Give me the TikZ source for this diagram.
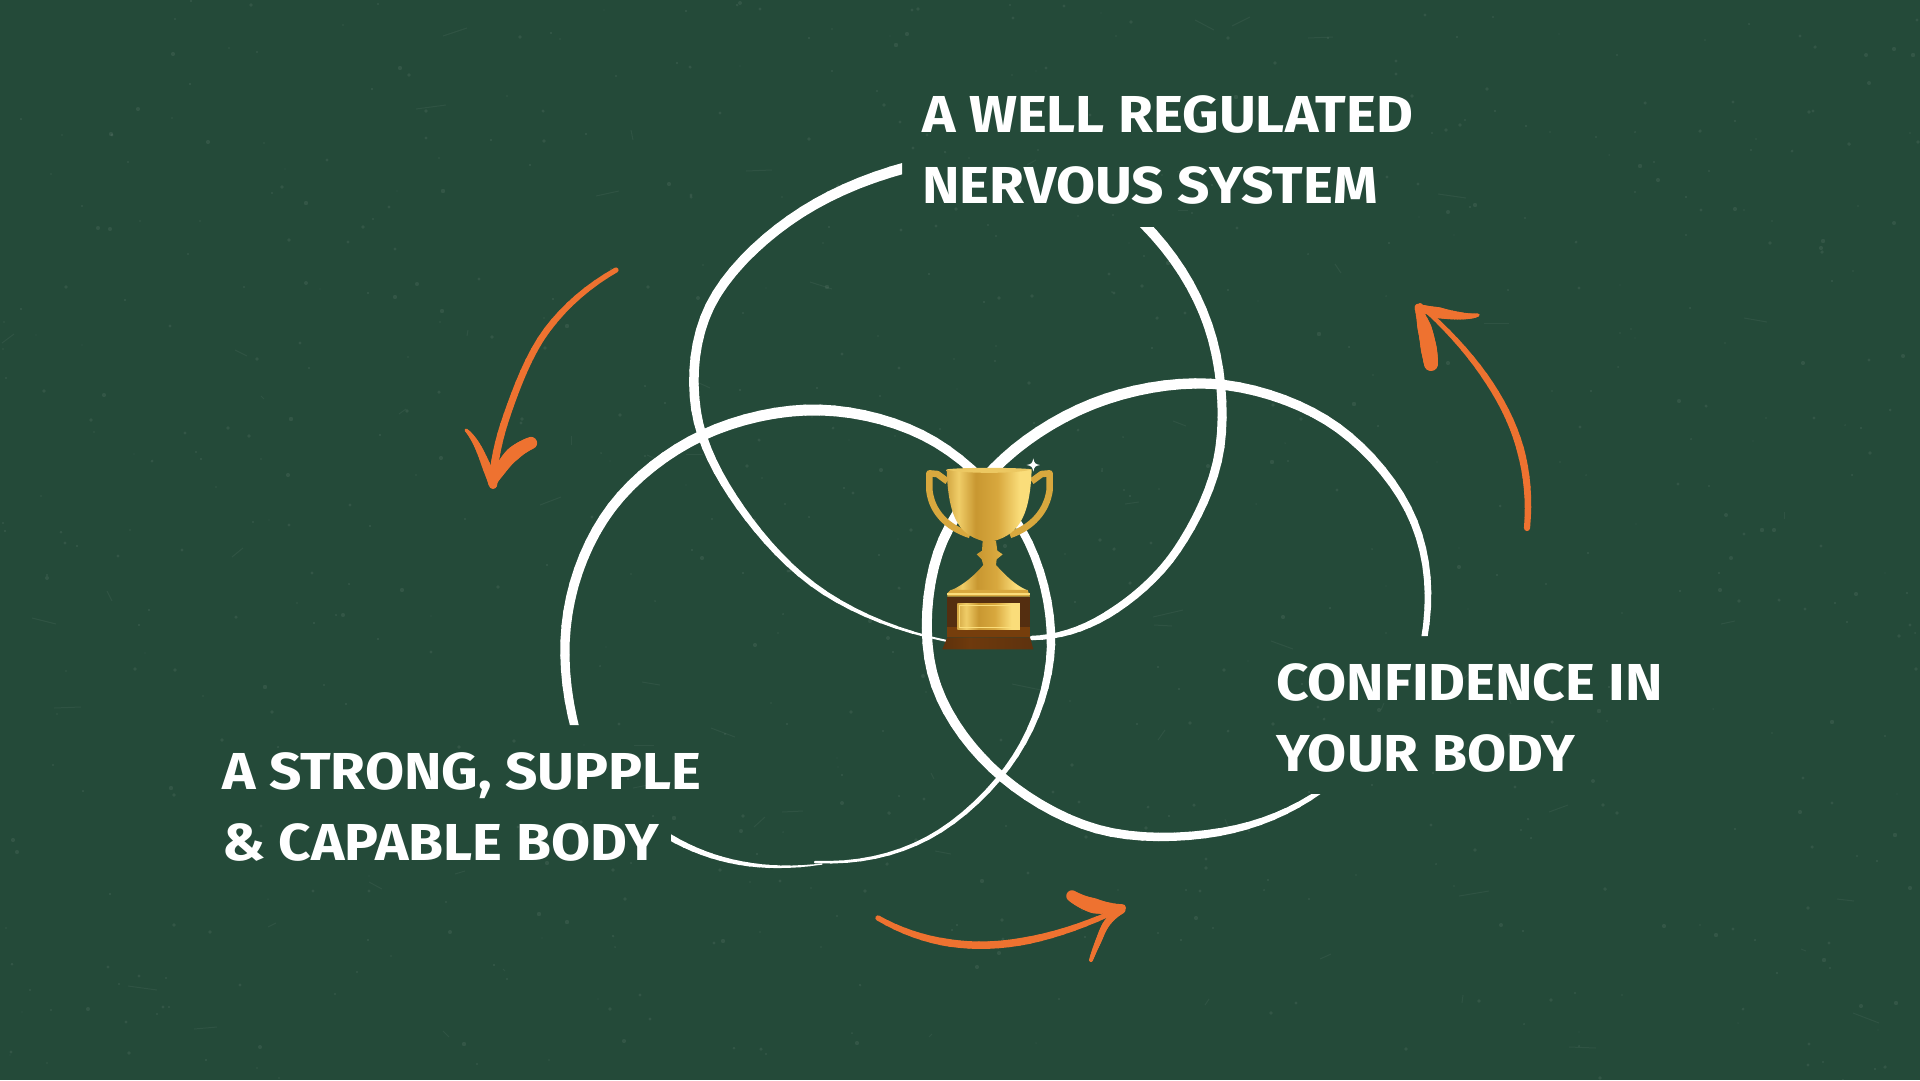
\documentclass[tikz,border=0pt]{standalone}
\usepackage{fontspec}
\setmainfont{Fira Sans}[FakeStretch=1.09]
\definecolor{BoardGreen}{RGB}{36,74,57}
\definecolor{ArrowOrange}{RGB}{238,114,48}
\definecolor{GoldDark}{RGB}{190,140,40}
\definecolor{GoldMid}{RGB}{216,168,62}
\definecolor{GoldLight}{RGB}{250,221,122}
\definecolor{BaseBrown}{RGB}{84,46,16}
\definecolor{BaseDark}{RGB}{94,50,14}
\pgfdeclarehorizontalshading{goldshade}{100bp}{color(0bp)=(GoldDark);color(20bp)=(GoldDark);color(32bp)=(GoldLight!70!GoldMid);color(42bp)=(GoldDark!60!GoldMid);color(55bp)=(GoldMid);color(68bp)=(GoldLight);color(76bp)=(GoldLight);color(88bp)=(GoldMid);color(100bp)=(GoldMid)}
\pgfdeclarehorizontalshading{brownshade}{100bp}{color(0bp)=(BaseDark!70!black);color(40bp)=(BaseDark!90!orange);color(75bp)=(BaseDark);color(100bp)=(BaseDark!70!black)}
\tikzset{
  sidelabel/.style={anchor=north west, inner sep=0pt, align=left, text=white,
    font=\fontsize{52}{71}\selectfont\bfseries},
  goldpart/.style={shading=goldshade},
  handlepart/.style={draw=GoldMid, line width=6.5pt, line join=round}
}
% a hand drawn stroke: x/y/width points, last one written twice
\newcount\npass
\newcommand{\brushstroke}[2]{
  \global\npass=0
  \foreach \xN/\yN/\wN in {#2}{
    \ifnum\npass>1
      \ifnum\npass=2
        \pgfmathsetmacro{\xAA}{3*\xB-3*\xC+\xN}\global\let\xA\xAA
        \pgfmathsetmacro{\yAA}{3*\yB-3*\yC+\yN}\global\let\yA\yAA
      \fi
      \let\xD\xN \let\yD\yN
      \ifdim\xN pt=\xC pt \ifdim\yN pt=\yC pt
        \pgfmathsetmacro{\xD}{3*\xC-3*\xB+\xA}
        \pgfmathsetmacro{\yD}{3*\yC-3*\yB+\yA}
      \fi\fi
      \global\let\lastx\xB \global\let\lasty\yB
      \foreach \tt in {0.125,0.25,0.375,0.5,0.625,0.75,0.875,1}{
        \pgfmathsetmacro{\px}{0.5*(2*\xB+(\xC-\xA)*\tt+(2*\xA-5*\xB+4*\xC-\xD)*\tt*\tt+(3*\xB-\xA-3*\xC+\xD)*\tt*\tt*\tt)}
        \pgfmathsetmacro{\py}{0.5*(2*\yB+(\yC-\yA)*\tt+(2*\yA-5*\yB+4*\yC-\yD)*\tt*\tt+(3*\yB-\yA-3*\yC+\yD)*\tt*\tt*\tt)}
        \pgfmathsetmacro{\pw}{\wB+(\wC-\wB)*\tt}
        \draw[#1,line width=\pw pt,line cap=round] (\lastx,\lasty) -- (\px,\py);
        \global\let\lastx\px \global\let\lasty\py
      }
    \fi
    \ifnum\npass>0
      \global\let\xA\xB \global\let\yA\yB
      \global\let\xB\xC \global\let\yB\yC \global\let\wB\wC
    \fi
    \global\let\xC\xN \global\let\yC\yN \global\let\wC\wN
    \global\advance\npass by 1
  }
}
\begin{document}
\begin{tikzpicture}[x=1pt,y=-1pt]
  \fill[BoardGreen] (0,0) rectangle (1920,1080);
  \useasboundingbox (0,0) rectangle (1920,1080);
  % chalk specks and scratches
  \pgfmathsetseed{42}
  \foreach \i in {1,...,700}{
    \pgfmathsetmacro{\sx}{random(0,1920)}
    \pgfmathsetmacro{\sy}{random(0,1080)}
    \pgfmathsetmacro{\sr}{0.6+1.6*rnd}
    \fill[white,opacity=0.07] (\sx,\sy) circle[radius=\sr];
  }
  \foreach \i in {1,...,70}{
    \pgfmathsetmacro{\sx}{random(0,1900)}
    \pgfmathsetmacro{\sy}{random(0,1060)}
    \pgfmathsetmacro{\dx}{random(-30,30)}
    \pgfmathsetmacro{\dy}{random(-10,10)}
    \draw[white,opacity=0.05,line width=1pt] (\sx,\sy) -- ++(\dx,\dy);
  }
  % top ring
  \begin{scope}
    \clip (0,0) -- (902,0) -- (902,227) -- (1400,227) -- (1400,1080) -- (0,1080) -- cycle;
    \brushstroke{white}{908/167/11, 790/220/10, 710/306/9.5, 696/410/9.5, 740/507/7.5, 825/593/5, 947/641/2, 947/641/2}
    \brushstroke{white}{1142/222/10, 1208/325/9, 1220/447/9, 1177/550/8, 1107/615/7.5, 1032/638/4.5, 1032/638/4.5}
  \end{scope}
  % left ring
  \begin{scope}
    \clip (671,1080) -- (671,725) -- (0,725) -- (0,0) -- (1920,0) -- (1920,1080) -- cycle;
    \brushstroke{white}{576/732/8.5, 568/612/9.5, 612/507/10, 703/435/10.5, 820/410/11, 935/442/9.5, 1022/530/8, 1051/645/8.5, 1016/755/5.5, 928/838/4, 815/862/2.5, 815/862/2.5}
    \brushstroke{white}{822/864/1, 740/863/4, 668/836/6, 668/836/6}
  \end{scope}
  % right ring
  \begin{scope}
    \clip (0,0) -- (1920,0) -- (1920,636) -- (1270,636) -- (1270,794) -- (1920,794) -- (1920,1080) -- (0,1080) -- cycle;
    \brushstroke{white}{1424/640/6, 1414/522/7.5, 1338/428/9, 1225/385/10, 1106/399/11, 1004/459/11, 938/553/10, 932/672/10, 992/768/9.5, 1097/829/9, 1220/832/8, 1322/790/5, 1322/790/5}
  \end{scope}
  % labels
  \node[sidelabel] (nervousLabel) at (922,95) {A WELL REGULATED\\NERVOUS SYSTEM};
  \node[sidelabel] (bodyLabel) at (222,752) {A STRONG, SUPPLE\\\& CAPABLE BODY};
  \node[sidelabel] (confidenceLabel) at (1276,663) {CONFIDENCE IN\\YOUR BODY};
  % orange arrows
  \brushstroke{ArrowOrange}{616/270/5, 547/330/6.5, 507/415/7, 493/485/8, 493/485/8}
  \brushstroke{ArrowOrange}{466/430/3, 477/445/6, 488/470/9, 493/484/9, 493/484/9}
  \brushstroke{ArrowOrange}{531/443/12, 512/455/14, 498/473/11, 493/484/7, 493/484/7}
  \brushstroke{ArrowOrange}{878/918/5, 950/943/7.5, 1030/940/7.5, 1122/908/5, 1122/908/5}
  \brushstroke{ArrowOrange}{1072/896/11, 1095/906/15, 1122/908/8, 1122/908/8}
  \brushstroke{ArrowOrange}{1122/910/7, 1107/923/7, 1098/942/6, 1091/960/4, 1091/960/4}
  \brushstroke{ArrowOrange}{1527/528/6, 1520/448/7.5, 1484/375/6.5, 1420/305/4, 1420/305/4}
  \brushstroke{ArrowOrange}{1418/307/6, 1440/313/11, 1463/316/7, 1478/315/3.5, 1478/315/3.5}
  \brushstroke{ArrowOrange}{1418/308/6, 1425/330/14, 1429/350/16, 1431/364/14, 1431/364/14}
  % trophy
  \begin{scope}[shift={(880,440)},x=0.3333pt,y=-0.3333pt]
    \draw[handlepart] (202,124) -- (172,102) -- (148,100) -- (148,150) .. controls (155,215) and (200,262) .. (270,285);
    \draw[handlepart] (455,124) -- (485,102) -- (509,100) -- (509,150) .. controls (500,215) and (455,262) .. (390,285);
    \shade[goldpart] (200,88) .. controls (205,240) and (240,290) .. (325,307) .. controls (410,290) and (450,240) .. (455,88) -- cycle;
    \fill[GoldLight!60!GoldMid] (200,88) .. controls (240,82) and (415,82) .. (455,88) .. controls (415,102) and (240,102) .. (200,88) -- cycle;
    \shade[goldpart] (308,303) -- (348,303) -- (352,332) -- (368,343) -- (350,358) -- (348,375) .. controls (375,405) and (405,435) .. (440,450) -- (215,450) .. controls (250,435) and (285,405) .. (310,375) -- (305,358) -- (290,343) -- (306,332) -- cycle;
    \fill[GoldMid] (212,450) -- (443,450) -- (450,470) -- (202,470) -- (202,460) -- cycle;
    \fill[GoldLight] (202,460) rectangle (450,466);
    \fill[BaseBrown] (202,470) rectangle (450,592);
    \fill[BaseDark!85!orange] (202,560) rectangle (450,592);
    \shade[goldpart] (232,490) rectangle (420,568);
    \draw[GoldLight,line width=.8pt] (237,495) rectangle (415,563);
    \shade[shading=brownshade] (202,592) -- (450,592) -- (460,628) -- (187,628) -- cycle;
    \fill[white] (460,55) .. controls (463,70) and (465,72) .. (480,75) .. controls (465,78) and (463,80) .. (460,95) .. controls (457,80) and (455,78) .. (440,75) .. controls (455,72) and (457,70) .. (460,55) -- cycle;
  \end{scope}
\end{tikzpicture}
\end{document}
